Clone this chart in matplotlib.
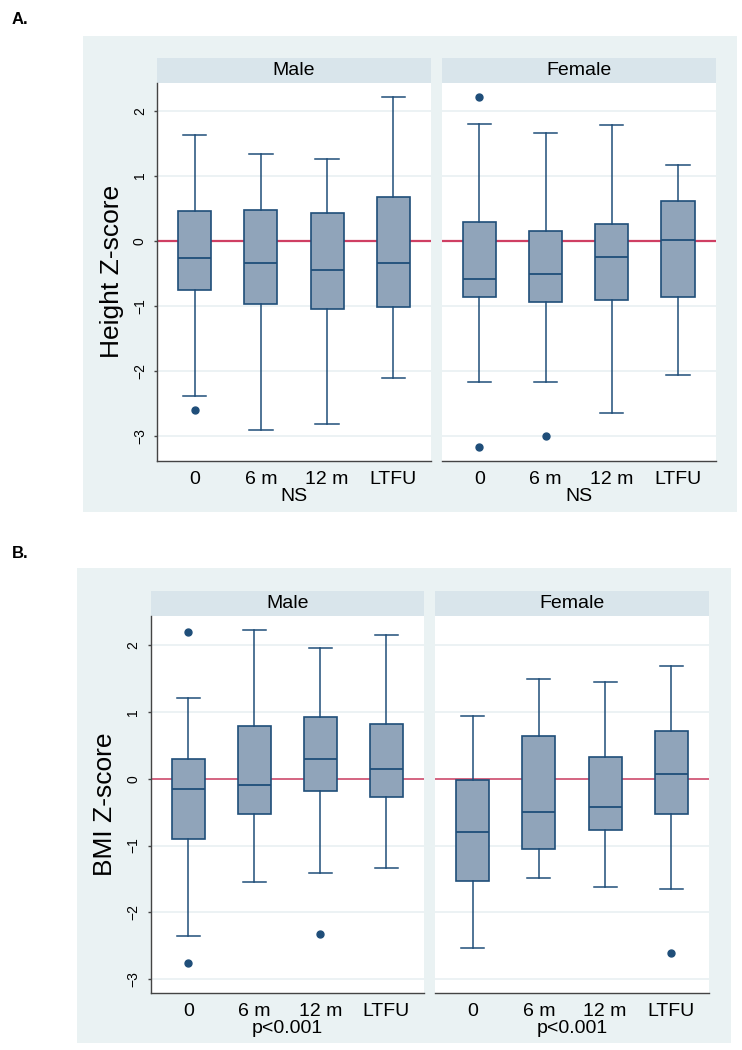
import numpy as np
import matplotlib
matplotlib.use('Agg')
import matplotlib.pyplot as plt
from matplotlib.patches import Rectangle

plt.rcParams['font.family'] = ['Liberation Sans', 'DejaVu Sans']

groups = ['0', '6 m', '12 m', 'LTFU']
sexes = ['Male', 'Female']

# height z-score
height_male_whislo = [-2.39, -2.91, -2.82, -2.11]
height_male_q1 = [-0.76, -0.97, -1.05, -1.02]
height_male_med = [-0.26, -0.35, -0.45, -0.35]
height_male_q3 = [0.45, 0.47, 0.43, 0.67]
height_male_whishi = [1.62, 1.33, 1.25, 2.21]
height_male_fliers = [[-2.60], [], [], []]

height_female_whislo = [-2.18, -2.18, -2.65, -2.07]
height_female_q1 = [-0.87, -0.95, -0.91, -0.87]
height_female_med = [-0.59, -0.52, -0.25, 0.01]
height_female_q3 = [0.28, 0.15, 0.26, 0.61]
height_female_whishi = [1.80, 1.66, 1.78, 1.17]
height_female_fliers = [[2.21, -3.17], [-3.01], [], []]

# BMI z-score, panel B
bmi_male_whislo = [-2.36, -1.54, -1.41, -1.33]
bmi_male_q1 = [-0.90, -0.52, -0.19, -0.28]
bmi_male_med = [-0.16, -0.10, 0.30, 0.15]
bmi_male_q3 = [0.29, 0.79, 0.93, 0.82]
bmi_male_whishi = [1.21, 2.23, 1.95, 2.15]
bmi_male_fliers = [[2.19, -2.75], [], [-2.32], []]

bmi_female_whislo = [-2.53, -1.48, -1.62, -1.65]
bmi_female_q1 = [-1.53, -1.05, -0.76, -0.53]
bmi_female_med = [-0.80, -0.50, -0.42, 0.07]
bmi_female_q3 = [-0.02, 0.64, 0.32, 0.72]
bmi_female_whishi = [0.94, 1.49, 1.45, 1.69]
bmi_female_fliers = [[], [], [], [-2.61]]

panel_letters = ['A.', 'B.']
ylabels = ['Height Z-score', 'BMI Z-score']
notes = ['NS', 'p<0.001']
yticks = [-3, -2, -1, 0, 1, 2]

navy = '#1f4e79'
boxfill = '#90a4ba'
zero_red = '#cf3f63'
bg_col = '#eaf2f3'
strip_col = '#d9e5eb'
grid_col = '#eaf1f3'
spine_col = '#444444'

W, H = 742, 1050


def frac(x0, y0, x1, y1):
    return [x0 / W, 1 - y1 / H, (x1 - x0) / W, (y1 - y0) / H]


def make_stats(whislo, q1, med, q3, whishi, fliers):
    out = []
    for i in range(len(med)):
        out.append(dict(whislo=whislo[i], q1=q1[i], med=med[i], q3=q3[i],
                        whishi=whishi[i], fliers=np.array(fliers[i])))
    return out


data = [
    [make_stats(height_male_whislo, height_male_q1, height_male_med, height_male_q3,
                height_male_whishi, height_male_fliers),
     make_stats(height_female_whislo, height_female_q1, height_female_med, height_female_q3,
                height_female_whishi, height_female_fliers)],
    [make_stats(bmi_male_whislo, bmi_male_q1, bmi_male_med, bmi_male_q3,
                bmi_male_whishi, bmi_male_fliers),
     make_stats(bmi_female_whislo, bmi_female_q1, bmi_female_med, bmi_female_q3,
                bmi_female_whishi, bmi_female_fliers)],
]

# pixel layout of the two panels
layout = [
    dict(bg=(83.3, 35.7, 737.3, 511.7), strip=(58.3, 82.7), ax=(82.7, 461),
         xs=[(157.3, 430.7), (441.7, 715.7)], letter_y=20, ylab_x=111.7,
         ylim=(-3.39, 2.43), zlw=1.6),
    dict(bg=(76.7, 568.4, 731, 1043.3), strip=(591, 615.7), ax=(615.7, 993.3),
         xs=[(150.7, 424), (435, 709)], letter_y=553, ylab_x=105,
         ylim=(-3.21, 2.44), zlw=1.1),
]

fig = plt.figure(figsize=(7.42, 10.5), dpi=100)

for p, L in enumerate(layout):
    bx0, by0, bx1, by1 = L['bg']
    fig.patches.append(Rectangle((bx0 / W, 1 - by1 / H), (bx1 - bx0) / W, (by1 - by0) / H,
                                 transform=fig.transFigure, facecolor=bg_col,
                                 edgecolor='none', zorder=-5))
    fig.text(12 / W, 1 - L['letter_y'] / H, panel_letters[p], fontsize=12,
             fontweight='bold', ha='left', va='center')

    for s in range(2):
        x0, x1 = L['xs'][s]
        sax = fig.add_axes(frac(x0, L['strip'][0], x1, L['strip'][1]))
        sax.set_facecolor(strip_col)
        sax.set_xticks([])
        sax.set_yticks([])
        for sp in sax.spines.values():
            sp.set_visible(False)
        sax.text(0.5, 0.5, sexes[s], fontsize=14, ha='center', va='center',
                 transform=sax.transAxes)

        ax = fig.add_axes(frac(x0, L['ax'][0], x1, L['ax'][1]))
        ax.set_facecolor('white')
        ax.set_axisbelow(True)
        ax.yaxis.grid(True, color=grid_col, lw=1.3)
        ax.axhline(0, color=zero_red, lw=L['zlw'], zorder=1.5)
        ax.bxp(data[p][s], positions=[1, 2, 3, 4], widths=0.5, capwidths=0.35,
               patch_artist=True,
               boxprops=dict(facecolor=boxfill, edgecolor=navy, lw=1.2),
               medianprops=dict(color=navy, lw=1.3),
               whiskerprops=dict(color=navy, lw=1.1),
               capprops=dict(color=navy, lw=1.1),
               flierprops=dict(marker='o', markerfacecolor=navy, markeredgecolor=navy,
                               markersize=5, linestyle='none'))
        ax.set_xlim(0.43, 4.57)
        ax.set_ylim(*L['ylim'])
        ax.set_yticks(yticks)
        ax.set_xticks([1, 2, 3, 4])
        ax.set_xticklabels(groups, fontsize=14)
        ax.tick_params(axis='x', length=0, pad=7)
        ax.set_xlabel(notes[p], fontsize=14, labelpad=0)
        for side in ['top', 'right']:
            ax.spines[side].set_visible(False)
        ax.spines['bottom'].set_color(spine_col)
        ax.spines['bottom'].set_linewidth(1.0)
        if s == 0:
            ax.spines['left'].set_color(spine_col)
            ax.spines['left'].set_linewidth(1.0)
            ax.tick_params(axis='y', length=2.5, width=1.0, color=spine_col,
                           pad=5, labelsize=10, labelrotation=90)
            for t in ax.get_yticklabels():
                t.set_va('center')
        else:
            ax.spines['left'].set_visible(False)
            ax.tick_params(axis='y', length=0, labelleft=False)

    yc = (L['ax'][0] + L['ax'][1]) / 2
    fig.text(L['ylab_x'] / W, 1 - yc / H, ylabels[p], fontsize=19, rotation=90,
             ha='center', va='center')

fig.savefig('out.png', dpi=100)
